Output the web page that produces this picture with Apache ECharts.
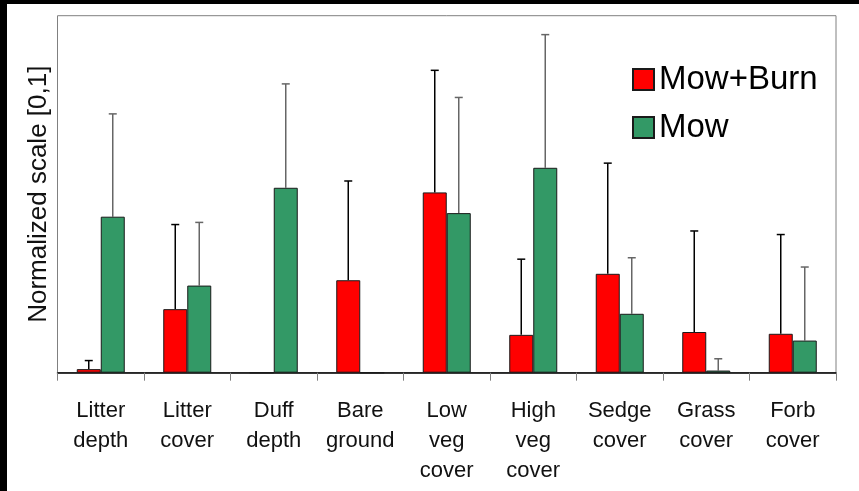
<!DOCTYPE html>
<html>
<head>
<meta charset="utf-8">
<script src="https://cdn.jsdelivr.net/npm/echarts@6/dist/echarts.min.js"></script>
<style>
html, body { margin: 0; padding: 0; background: #000; width: 859px; height: 491px; overflow: hidden; }
#chart { position: absolute; left: 7px; top: 4px; width: 852px; height: 487px; background: #fff; }
</style>
</head>
<body>
<div id="chart"></div>
<script>
const categories = ['Litter\ndepth', 'Litter\ncover', 'Duff\ndepth', 'Bare\nground', 'Low\nveg\ncover', 'High\nveg\ncover', 'Sedge\ncover', 'Grass\ncover', 'Forb\ncover'];
const mowBurn    = [0.010, 0.178, 0.000, 0.259, 0.505, 0.106, 0.277, 0.114, 0.109];
const mowBurnErr = [0.024, 0.237, 0.000, 0.278, 0.342, 0.212, 0.310, 0.283, 0.278];
const mow        = [0.437, 0.244, 0.518, 0.000, 0.447, 0.574, 0.165, 0.006, 0.090];
const mowErr     = [0.288, 0.177, 0.291, 0.000, 0.324, 0.373, 0.157, 0.033, 0.206];

const BAR_W = 24;

function errSeries(name, means, errs, offset, color) {
  return {
    type: 'custom',
    name: name + ' err',
    z: 1,
    silent: true,
    data: means.map((m, i) => [i, m, m + errs[i]]),
    renderItem: function (params, api) {
      const i = api.value(0);
      const lo = api.coord([i, api.value(1)]);
      const hi = api.coord([i, api.value(2)]);
      if (api.value(2) <= api.value(1)) return null;
      const x = lo[0] + offset;
      const half = 4;
      return {
        type: 'group',
        children: [
          { type: 'line', shape: { x1: x, y1: lo[1], x2: x, y2: hi[1] }, style: { stroke: color, lineWidth: 1.5 } },
          { type: 'line', shape: { x1: x - half, y1: hi[1], x2: x + half, y2: hi[1] }, style: { stroke: color, lineWidth: 1.5 } }
        ]
      };
    }
  };
}

const chart = echarts.init(document.getElementById('chart'), null, { renderer: 'canvas' });
chart.setOption({
  animation: false,
  backgroundColor: '#fff',
  textStyle: { fontFamily: 'Liberation Sans, Arial, sans-serif' },
  grid: {
    left: 50.5, top: 11.7, right: 23, bottom: 118.3,
    show: true, borderColor: '#808080', borderWidth: 1, backgroundColor: 'transparent'
  },
  legend: {
    orient: 'vertical',
    left: 625,
    top: 59,
    padding: 0,
    itemWidth: 21,
    itemHeight: 21,
    itemGap: 15,
    icon: 'rect',
    textStyle: { fontSize: 33, color: '#000', lineHeight: 32 },
    data: ['Mow+Burn', 'Mow']
  },
  xAxis: {
    type: 'category',
    data: categories,
    axisLine: { lineStyle: { color: '#000', width: 1.5 } },
    axisTick: { show: true, length: 8, lineStyle: { color: '#808080', width: 1 } },
    axisLabel: { interval: 0, fontSize: 22, lineHeight: 30, color: '#111', margin: 23 }
  },
  yAxis: {
    type: 'value',
    min: 0, max: 1,
    name: 'Normalized scale [0,1]',
    nameLocation: 'middle',
    nameRotate: 90,
    nameGap: 6,
    nameTextStyle: { fontSize: 26, color: '#111' },
    axisLine: { show: false },
    axisTick: { show: false },
    axisLabel: { show: false },
    splitLine: { show: false }
  },
  series: [
    {
      name: 'Mow+Burn', type: 'bar', data: mowBurn, barWidth: BAR_W, barGap: '0%', z: 2,
      itemStyle: { color: '#FF0000', borderColor: '#1a1a1a', borderWidth: 1 }
    },
    {
      name: 'Mow', type: 'bar', data: mow, barWidth: BAR_W, barGap: '0%', z: 2,
      itemStyle: { color: '#339966', borderColor: '#1a1a1a', borderWidth: 1 }
    },
    errSeries('Mow+Burn', mowBurn, mowBurnErr, -BAR_W / 2, '#000'),
    errSeries('Mow', mow, mowErr, BAR_W / 2, '#666')
  ]
});
</script>
</body>
</html>
